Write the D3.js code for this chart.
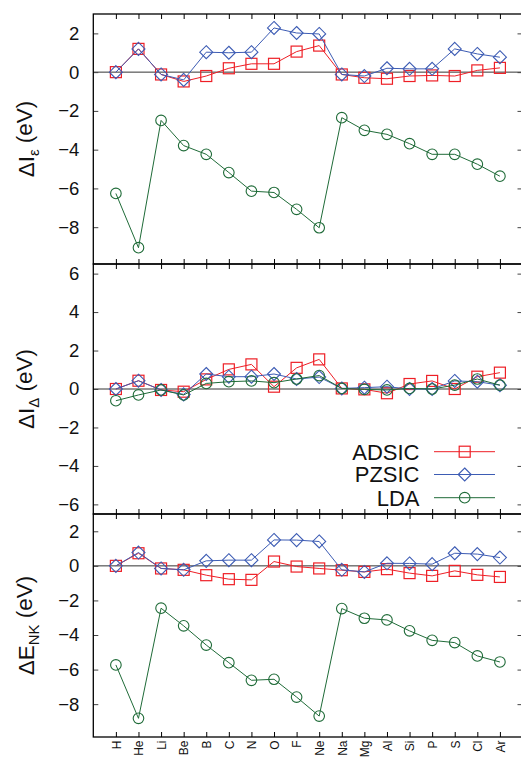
<!DOCTYPE html>
<html>
<head>
<meta charset="utf-8">
<script src="https://cdn.jsdelivr.net/npm/d3@7"></script>
<style>
  body { margin: 0; background: #fff; }
  svg { display: block; font-family: "Liberation Sans", Arial, Helvetica, sans-serif; }
</style>
</head>
<body>
<svg id="chart" width="521" height="757"></svg>
<script>
const elements = ['H','He','Li','Be','B','C','N','O','F','Ne','Na','Mg','Al','Si','P','S','Cl','Ar']

// panel 1: ΔI_ε
const adsicEps = [0, 1.2, -0.12, -0.48, -0.2, 0.2, 0.43, 0.43, 1.06, 1.37, -0.12, -0.29, -0.34, -0.2, -0.17, -0.2, 0.09, 0.22]
const pzsicEps = [0, 1.2, -0.12, -0.4, 1.03, 1.0, 1.03, 2.28, 2.02, 1.97, -0.12, -0.2, 0.2, 0.17, 0.17, 1.2, 0.94, 0.77]
const ldaEps = [-6.26, -9.06, -2.49, -3.79, -4.24, -5.18, -6.14, -6.21, -7.08, -8.03, -2.35, -3.0, -3.21, -3.69, -4.24, -4.24, -4.75, -5.37]

// panel 2: ΔI_Δ
const adsicDelta = [0, 0.43, -0.05, -0.14, 0.5, 1.02, 1.28, 0.12, 1.1, 1.54, 0.03, -0.02, -0.22, 0.26, 0.42, 0.0, 0.64, 0.85]
const pzsicDelta = [0, 0.43, -0.05, -0.28, 0.78, 0.64, 0.64, 0.78, 0.52, 0.62, 0.03, 0.07, 0.12, 0, 0, 0.42, 0.38, 0.2]
const ldaDelta = [-0.61, -0.31, -0.05, -0.31, 0.29, 0.38, 0.42, 0.33, 0.52, 0.7, 0.03, -0.02, -0.05, 0.03, 0, 0.2, 0.52, 0.2]

// panel 3: ΔE_NK
const adsicNK = [0, 0.73, -0.15, -0.23, -0.54, -0.77, -0.81, 0.25, -0.04, -0.15, -0.25, -0.35, -0.19, -0.42, -0.58, -0.29, -0.52, -0.64]
const pzsicNK = [0, 0.77, -0.15, -0.23, 0.29, 0.33, 0.33, 1.5, 1.49, 1.41, -0.23, -0.35, 0.15, 0.14, 0.1, 0.73, 0.68, 0.48]
const ldaNK = [-5.73, -8.82, -2.45, -3.47, -4.58, -5.6, -6.62, -6.56, -7.59, -8.69, -2.47, -3.03, -3.13, -3.76, -4.31, -4.44, -5.21, -5.56]

const ticksA = [-8, -6, -4, -2, 0, 2]
const ticksB = [-6, -4, -2, 0, 2, 4, 6]

const seriesNames = ['ADSIC', 'PZSIC', 'LDA']
const colors = { ADSIC: '#ee1f26', PZSIC: '#3d5cb4', LDA: '#1f6b38' }

const svg = d3.select('#chart')
const left = 93.3, right = 522.5

const x = d3.scaleLinear().domain([0, elements.length + 1]).range([left, right])

const panels = [
  { top: 14, bottom: 264, domain: [-9.9, 3], ticks: ticksA, data: [adsicEps, pzsicEps, ldaEps], label: ['I', 'ε'] },
  { top: 264, bottom: 514, domain: [-6.5, 6.5], ticks: ticksB, data: [adsicDelta, pzsicDelta, ldaDelta], label: ['I', 'Δ'], legend: true },
  { top: 514, bottom: 737, domain: [-9.9, 3], ticks: ticksA, data: [adsicNK, pzsicNK, ldaNK], label: ['E', 'NK'], xlabels: true }
]

function drawMarker(g, name, cx, cy) {
  const c = colors[name]
  if (name === 'ADSIC') {
    g.append('rect').attr('x', cx - 5.5).attr('y', cy - 5.5).attr('width', 11).attr('height', 11)
      .attr('fill', 'none').attr('stroke', c).attr('stroke-width', 1.2)
  } else if (name === 'PZSIC') {
    g.append('path').attr('d', `M${cx},${cy - 6.5}L${cx + 6.5},${cy}L${cx},${cy + 6.5}L${cx - 6.5},${cy}Z`)
      .attr('fill', 'none').attr('stroke', c).attr('stroke-width', 1.1)
  } else {
    g.append('circle').attr('cx', cx).attr('cy', cy).attr('r', 5.3)
      .attr('fill', 'none').attr('stroke', c).attr('stroke-width', 1.1)
  }
}

panels.forEach(p => {
  const y = d3.scaleLinear().domain(p.domain).range([p.bottom, p.top])
  const g = svg.append('g')

  // zero line
  g.append('line').attr('x1', left).attr('x2', right).attr('y1', y(0)).attr('y2', y(0))
    .attr('stroke', '#333').attr('stroke-width', 1)

  // left axis with labels
  const yAxisL = g.append('g').attr('transform', `translate(${left},0)`)
    .call(d3.axisLeft(y).tickValues(p.ticks).tickSize(-5).tickPadding(14).tickFormat(d3.format('d')))
  yAxisL.select('.domain').remove()
  yAxisL.selectAll('line').attr('stroke', '#444')
  yAxisL.selectAll('text').attr('font-size', 18.5).attr('font-family', 'Liberation Sans, Arial, sans-serif').attr('fill', '#111')

  const yAxisR = g.append('g').attr('transform', `translate(${right},0)`)
    .call(d3.axisRight(y).tickValues(p.ticks).tickSize(-5).tickFormat(''))
  yAxisR.select('.domain').remove()
  yAxisR.selectAll('line').attr('stroke', '#444')

  const xTicks = d3.range(1, elements.length + 1)
  const xTop = g.append('g').attr('transform', `translate(0,${p.top})`)
    .call(d3.axisTop(x).tickValues(xTicks).tickSize(-5).tickFormat(''))
  xTop.select('.domain').remove()
  xTop.selectAll('line').attr('stroke', '#000')

  const xBot = g.append('g').attr('transform', `translate(0,${p.bottom})`)
    .call(d3.axisBottom(x).tickValues(xTicks).tickSize(-5).tickFormat(i => p.xlabels ? elements[i - 1] : ''))
  xBot.select('.domain').remove()
  xBot.selectAll('line').attr('stroke', '#000')
  if (p.xlabels) {
    xBot.selectAll('text')
      .attr('transform', 'rotate(-90)')
      .attr('x', -3.5).attr('y', 0).attr('dy', '0.36em')
      .attr('text-anchor', 'end')
      .attr('font-size', 12).attr('font-family', 'Liberation Sans, Arial, sans-serif').attr('fill', '#111')
  }

  // frame
  g.append('rect').attr('x', left).attr('y', p.top).attr('width', right - left).attr('height', p.bottom - p.top)
    .attr('fill', 'none').attr('stroke', '#000').attr('stroke-width', 1.3)

  // series
  const line = d3.line().x((d, i) => x(i + 1)).y(d => y(d))
  p.data.forEach((vals, si) => {
    const name = seriesNames[si]
    const sg = g.append('g')
    sg.append('path').attr('d', line(vals)).attr('fill', 'none').attr('stroke', colors[name]).attr('stroke-width', 1)
    vals.forEach((v, i) => drawMarker(sg, name, x(i + 1), y(v)))
  })

  // y title
  const cy = (p.top + p.bottom) / 2
  const t = svg.append('text').attr('transform', `translate(34,${cy}) rotate(-90)`)
    .attr('text-anchor', 'middle').attr('font-size', 22.5).attr('fill', '#111')
  t.append('tspan').text('Δ' + p.label[0])
  t.append('tspan').attr('font-size', 15).attr('dy', '0.3em').text(p.label[1])
  t.append('tspan').attr('dy', '-0.3em').text(' (eV)')

  if (p.legend) {
    const rows = [451.7, 474.5, 497.7]
    seriesNames.forEach((name, i) => {
      const lg = svg.append('g')
      lg.append('text').attr('x', 419.5).attr('y', rows[i]).attr('dy', '0.36em')
        .attr('text-anchor', 'end').attr('font-size', 22).attr('fill', '#111').text(name)
      lg.append('line').attr('x1', 434).attr('x2', 495).attr('y1', rows[i]).attr('y2', rows[i])
        .attr('stroke', colors[name]).attr('stroke-width', 1)
      drawMarker(lg, name, 464.7, rows[i])
    })
  }
})
</script>
</body>
</html>
